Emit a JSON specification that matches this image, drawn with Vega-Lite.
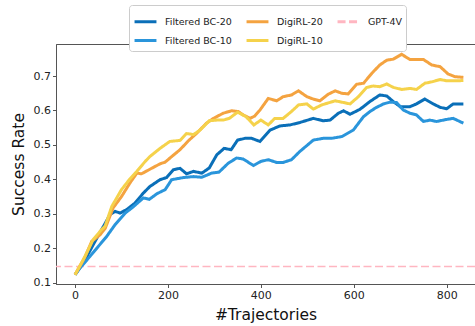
{
  "$schema": "https://vega.github.io/schema/vega-lite/v6.json",
  "width": 419,
  "height": 240,
  "autosize": {"type": "none"},
  "padding": {"left": 56, "top": 44, "right": 0, "bottom": 42},
  "background": "white",
  "config": {
    "view": {"stroke": "#555", "strokeWidth": 1},
    "font": "DejaVu Sans",
    "axis": {
      "grid": false,
      "domainColor": "#555",
      "tickColor": "#555",
      "tickSize": 3.5,
      "labelColor": "#222",
      "labelFontSize": 11,
      "labelFont": "DejaVu Sans",
      "titleFont": "DejaVu Sans",
      "titleFontSize": 15.5,
      "titleFontWeight": "normal",
      "titleColor": "#111",
      "labelPadding": 2,
      "labelOverlap": false
    }
  },
  "datasets": {
    "curves": [
      {"series": "Filtered BC-20", "x": 0, "rate": 0.123},
      {"series": "Filtered BC-20", "x": 20, "rate": 0.162},
      {"series": "Filtered BC-20", "x": 39, "rate": 0.21},
      {"series": "Filtered BC-20", "x": 61, "rate": 0.263},
      {"series": "Filtered BC-20", "x": 75, "rate": 0.297},
      {"series": "Filtered BC-20", "x": 86, "rate": 0.307},
      {"series": "Filtered BC-20", "x": 97, "rate": 0.302},
      {"series": "Filtered BC-20", "x": 111, "rate": 0.312},
      {"series": "Filtered BC-20", "x": 129, "rate": 0.331},
      {"series": "Filtered BC-20", "x": 147, "rate": 0.36},
      {"series": "Filtered BC-20", "x": 161, "rate": 0.379},
      {"series": "Filtered BC-20", "x": 183, "rate": 0.399},
      {"series": "Filtered BC-20", "x": 197, "rate": 0.405},
      {"series": "Filtered BC-20", "x": 212, "rate": 0.428},
      {"series": "Filtered BC-20", "x": 226, "rate": 0.432},
      {"series": "Filtered BC-20", "x": 240, "rate": 0.416},
      {"series": "Filtered BC-20", "x": 255, "rate": 0.423},
      {"series": "Filtered BC-20", "x": 273, "rate": 0.418},
      {"series": "Filtered BC-20", "x": 289, "rate": 0.433},
      {"series": "Filtered BC-20", "x": 305, "rate": 0.471},
      {"series": "Filtered BC-20", "x": 321, "rate": 0.49},
      {"series": "Filtered BC-20", "x": 336, "rate": 0.486},
      {"series": "Filtered BC-20", "x": 350, "rate": 0.514},
      {"series": "Filtered BC-20", "x": 366, "rate": 0.519},
      {"series": "Filtered BC-20", "x": 380, "rate": 0.519},
      {"series": "Filtered BC-20", "x": 398, "rate": 0.51},
      {"series": "Filtered BC-20", "x": 420, "rate": 0.543},
      {"series": "Filtered BC-20", "x": 441, "rate": 0.555},
      {"series": "Filtered BC-20", "x": 463, "rate": 0.558},
      {"series": "Filtered BC-20", "x": 484, "rate": 0.565},
      {"series": "Filtered BC-20", "x": 513, "rate": 0.577},
      {"series": "Filtered BC-20", "x": 534, "rate": 0.57},
      {"series": "Filtered BC-20", "x": 549, "rate": 0.572},
      {"series": "Filtered BC-20", "x": 567, "rate": 0.592},
      {"series": "Filtered BC-20", "x": 578, "rate": 0.599},
      {"series": "Filtered BC-20", "x": 592, "rate": 0.589},
      {"series": "Filtered BC-20", "x": 613, "rate": 0.603},
      {"series": "Filtered BC-20", "x": 635, "rate": 0.626},
      {"series": "Filtered BC-20", "x": 656, "rate": 0.645},
      {"series": "Filtered BC-20", "x": 671, "rate": 0.642},
      {"series": "Filtered BC-20", "x": 685, "rate": 0.626},
      {"series": "Filtered BC-20", "x": 700, "rate": 0.611},
      {"series": "Filtered BC-20", "x": 721, "rate": 0.611},
      {"series": "Filtered BC-20", "x": 735, "rate": 0.619},
      {"series": "Filtered BC-20", "x": 753, "rate": 0.633},
      {"series": "Filtered BC-20", "x": 771, "rate": 0.619},
      {"series": "Filtered BC-20", "x": 786, "rate": 0.609},
      {"series": "Filtered BC-20", "x": 800, "rate": 0.605},
      {"series": "Filtered BC-20", "x": 814, "rate": 0.619},
      {"series": "Filtered BC-20", "x": 836, "rate": 0.619},

      {"series": "Filtered BC-10", "x": 0, "rate": 0.123},
      {"series": "Filtered BC-10", "x": 11, "rate": 0.143},
      {"series": "Filtered BC-10", "x": 32, "rate": 0.176},
      {"series": "Filtered BC-10", "x": 50, "rate": 0.205},
      {"series": "Filtered BC-10", "x": 68, "rate": 0.234},
      {"series": "Filtered BC-10", "x": 86, "rate": 0.268},
      {"series": "Filtered BC-10", "x": 108, "rate": 0.302},
      {"series": "Filtered BC-10", "x": 126, "rate": 0.321},
      {"series": "Filtered BC-10", "x": 147, "rate": 0.346},
      {"series": "Filtered BC-10", "x": 160, "rate": 0.342},
      {"series": "Filtered BC-10", "x": 176, "rate": 0.358},
      {"series": "Filtered BC-10", "x": 194, "rate": 0.37},
      {"series": "Filtered BC-10", "x": 208, "rate": 0.399},
      {"series": "Filtered BC-10", "x": 233, "rate": 0.405},
      {"series": "Filtered BC-10", "x": 255, "rate": 0.408},
      {"series": "Filtered BC-10", "x": 273, "rate": 0.406},
      {"series": "Filtered BC-10", "x": 294, "rate": 0.418},
      {"series": "Filtered BC-10", "x": 310, "rate": 0.421},
      {"series": "Filtered BC-10", "x": 330, "rate": 0.447},
      {"series": "Filtered BC-10", "x": 348, "rate": 0.462},
      {"series": "Filtered BC-10", "x": 362, "rate": 0.459},
      {"series": "Filtered BC-10", "x": 384, "rate": 0.44},
      {"series": "Filtered BC-10", "x": 400, "rate": 0.452},
      {"series": "Filtered BC-10", "x": 416, "rate": 0.457},
      {"series": "Filtered BC-10", "x": 434, "rate": 0.449},
      {"series": "Filtered BC-10", "x": 448, "rate": 0.449},
      {"series": "Filtered BC-10", "x": 466, "rate": 0.457},
      {"series": "Filtered BC-10", "x": 484, "rate": 0.481},
      {"series": "Filtered BC-10", "x": 513, "rate": 0.514},
      {"series": "Filtered BC-10", "x": 534, "rate": 0.519},
      {"series": "Filtered BC-10", "x": 552, "rate": 0.519},
      {"series": "Filtered BC-10", "x": 574, "rate": 0.524},
      {"series": "Filtered BC-10", "x": 599, "rate": 0.543},
      {"series": "Filtered BC-10", "x": 621, "rate": 0.582},
      {"series": "Filtered BC-10", "x": 635, "rate": 0.597},
      {"series": "Filtered BC-10", "x": 649, "rate": 0.609},
      {"series": "Filtered BC-10", "x": 664, "rate": 0.619},
      {"series": "Filtered BC-10", "x": 678, "rate": 0.624},
      {"series": "Filtered BC-10", "x": 692, "rate": 0.623},
      {"series": "Filtered BC-10", "x": 707, "rate": 0.601},
      {"series": "Filtered BC-10", "x": 721, "rate": 0.592},
      {"series": "Filtered BC-10", "x": 735, "rate": 0.587},
      {"series": "Filtered BC-10", "x": 750, "rate": 0.568},
      {"series": "Filtered BC-10", "x": 764, "rate": 0.572},
      {"series": "Filtered BC-10", "x": 778, "rate": 0.568},
      {"series": "Filtered BC-10", "x": 800, "rate": 0.574},
      {"series": "Filtered BC-10", "x": 814, "rate": 0.577},
      {"series": "Filtered BC-10", "x": 836, "rate": 0.563},

      {"series": "DigiRL-20", "x": 0, "rate": 0.123},
      {"series": "DigiRL-20", "x": 22, "rate": 0.176},
      {"series": "DigiRL-20", "x": 36, "rate": 0.22},
      {"series": "DigiRL-20", "x": 54, "rate": 0.239},
      {"series": "DigiRL-20", "x": 65, "rate": 0.258},
      {"series": "DigiRL-20", "x": 82, "rate": 0.317},
      {"series": "DigiRL-20", "x": 100, "rate": 0.35},
      {"series": "DigiRL-20", "x": 118, "rate": 0.389},
      {"series": "DigiRL-20", "x": 133, "rate": 0.418},
      {"series": "DigiRL-20", "x": 143, "rate": 0.416},
      {"series": "DigiRL-20", "x": 165, "rate": 0.432},
      {"series": "DigiRL-20", "x": 183, "rate": 0.445},
      {"series": "DigiRL-20", "x": 194, "rate": 0.45},
      {"series": "DigiRL-20", "x": 208, "rate": 0.466},
      {"series": "DigiRL-20", "x": 226, "rate": 0.486},
      {"series": "DigiRL-20", "x": 244, "rate": 0.512},
      {"series": "DigiRL-20", "x": 262, "rate": 0.534},
      {"series": "DigiRL-20", "x": 283, "rate": 0.563},
      {"series": "DigiRL-20", "x": 298, "rate": 0.577},
      {"series": "DigiRL-20", "x": 319, "rate": 0.592},
      {"series": "DigiRL-20", "x": 337, "rate": 0.599},
      {"series": "DigiRL-20", "x": 351, "rate": 0.597},
      {"series": "DigiRL-20", "x": 362, "rate": 0.587},
      {"series": "DigiRL-20", "x": 377, "rate": 0.577},
      {"series": "DigiRL-20", "x": 387, "rate": 0.584},
      {"series": "DigiRL-20", "x": 398, "rate": 0.601},
      {"series": "DigiRL-20", "x": 416, "rate": 0.635},
      {"series": "DigiRL-20", "x": 434, "rate": 0.628},
      {"series": "DigiRL-20", "x": 448, "rate": 0.64},
      {"series": "DigiRL-20", "x": 466, "rate": 0.645},
      {"series": "DigiRL-20", "x": 481, "rate": 0.657},
      {"series": "DigiRL-20", "x": 499, "rate": 0.64},
      {"series": "DigiRL-20", "x": 513, "rate": 0.633},
      {"series": "DigiRL-20", "x": 527, "rate": 0.628},
      {"series": "DigiRL-20", "x": 545, "rate": 0.647},
      {"series": "DigiRL-20", "x": 560, "rate": 0.657},
      {"series": "DigiRL-20", "x": 574, "rate": 0.65},
      {"series": "DigiRL-20", "x": 588, "rate": 0.648},
      {"series": "DigiRL-20", "x": 606, "rate": 0.676},
      {"series": "DigiRL-20", "x": 621, "rate": 0.679},
      {"series": "DigiRL-20", "x": 639, "rate": 0.708},
      {"series": "DigiRL-20", "x": 656, "rate": 0.732},
      {"series": "DigiRL-20", "x": 671, "rate": 0.746},
      {"series": "DigiRL-20", "x": 685, "rate": 0.749},
      {"series": "DigiRL-20", "x": 703, "rate": 0.763},
      {"series": "DigiRL-20", "x": 721, "rate": 0.748},
      {"series": "DigiRL-20", "x": 735, "rate": 0.748},
      {"series": "DigiRL-20", "x": 750, "rate": 0.748},
      {"series": "DigiRL-20", "x": 768, "rate": 0.732},
      {"series": "DigiRL-20", "x": 786, "rate": 0.727},
      {"series": "DigiRL-20", "x": 803, "rate": 0.706},
      {"series": "DigiRL-20", "x": 818, "rate": 0.698},
      {"series": "DigiRL-20", "x": 836, "rate": 0.696},

      {"series": "DigiRL-10", "x": 0, "rate": 0.123},
      {"series": "DigiRL-10", "x": 18, "rate": 0.167},
      {"series": "DigiRL-10", "x": 39, "rate": 0.225},
      {"series": "DigiRL-10", "x": 54, "rate": 0.249},
      {"series": "DigiRL-10", "x": 65, "rate": 0.265},
      {"series": "DigiRL-10", "x": 79, "rate": 0.321},
      {"series": "DigiRL-10", "x": 100, "rate": 0.37},
      {"series": "DigiRL-10", "x": 118, "rate": 0.401},
      {"series": "DigiRL-10", "x": 133, "rate": 0.423},
      {"series": "DigiRL-10", "x": 151, "rate": 0.452},
      {"series": "DigiRL-10", "x": 161, "rate": 0.466},
      {"series": "DigiRL-10", "x": 183, "rate": 0.49},
      {"series": "DigiRL-10", "x": 204, "rate": 0.51},
      {"series": "DigiRL-10", "x": 226, "rate": 0.513},
      {"series": "DigiRL-10", "x": 240, "rate": 0.533},
      {"series": "DigiRL-10", "x": 255, "rate": 0.53},
      {"series": "DigiRL-10", "x": 269, "rate": 0.543},
      {"series": "DigiRL-10", "x": 289, "rate": 0.57},
      {"series": "DigiRL-10", "x": 305, "rate": 0.572},
      {"series": "DigiRL-10", "x": 319, "rate": 0.572},
      {"series": "DigiRL-10", "x": 332, "rate": 0.577},
      {"series": "DigiRL-10", "x": 350, "rate": 0.595},
      {"series": "DigiRL-10", "x": 368, "rate": 0.582},
      {"series": "DigiRL-10", "x": 385, "rate": 0.558},
      {"series": "DigiRL-10", "x": 400, "rate": 0.572},
      {"series": "DigiRL-10", "x": 416, "rate": 0.558},
      {"series": "DigiRL-10", "x": 430, "rate": 0.577},
      {"series": "DigiRL-10", "x": 448, "rate": 0.577},
      {"series": "DigiRL-10", "x": 466, "rate": 0.597},
      {"series": "DigiRL-10", "x": 481, "rate": 0.616},
      {"series": "DigiRL-10", "x": 499, "rate": 0.619},
      {"series": "DigiRL-10", "x": 513, "rate": 0.604},
      {"series": "DigiRL-10", "x": 531, "rate": 0.616},
      {"series": "DigiRL-10", "x": 560, "rate": 0.628},
      {"series": "DigiRL-10", "x": 578, "rate": 0.623},
      {"series": "DigiRL-10", "x": 592, "rate": 0.619},
      {"series": "DigiRL-10", "x": 610, "rate": 0.64},
      {"series": "DigiRL-10", "x": 628, "rate": 0.667},
      {"series": "DigiRL-10", "x": 642, "rate": 0.671},
      {"series": "DigiRL-10", "x": 656, "rate": 0.669},
      {"series": "DigiRL-10", "x": 671, "rate": 0.677},
      {"series": "DigiRL-10", "x": 685, "rate": 0.667},
      {"series": "DigiRL-10", "x": 703, "rate": 0.661},
      {"series": "DigiRL-10", "x": 721, "rate": 0.664},
      {"series": "DigiRL-10", "x": 735, "rate": 0.661},
      {"series": "DigiRL-10", "x": 753, "rate": 0.679},
      {"series": "DigiRL-10", "x": 768, "rate": 0.683},
      {"series": "DigiRL-10", "x": 786, "rate": 0.69},
      {"series": "DigiRL-10", "x": 800, "rate": 0.686},
      {"series": "DigiRL-10", "x": 818, "rate": 0.686},
      {"series": "DigiRL-10", "x": 836, "rate": 0.687}
    ],
    "baseline": [
      {"series": "GPT-4V", "rate": 0.147}
    ]
  },
  "layer": [
    {
      "data": {"name": "baseline"},
      "mark": {"type": "rule", "strokeWidth": 1.6},
      "encoding": {
        "y": {
          "field": "rate",
          "type": "quantitative",
          "scale": {"domain": [0.096, 0.793], "nice": false, "zero": false},
          "axis": {"values": [0.1, 0.2, 0.3, 0.4, 0.5, 0.6, 0.7], "format": ".1f", "title": "Success Rate", "titlePadding": 7, "labelOverlap": false}
        },
        "color": {"field": "series", "type": "nominal"},
        "strokeDash": {"field": "series", "type": "nominal"}
      }
    },
    {
      "data": {"name": "curves"},
      "mark": {"type": "line", "strokeWidth": 3, "clip": true},
      "encoding": {
        "x": {
          "field": "x",
          "type": "quantitative",
          "scale": {"domain": [-41, 861], "nice": false, "zero": false},
          "axis": {"values": [0, 200, 400, 600, 800], "title": "#Trajectories", "titlePadding": 7}
        },
        "y": {
          "field": "rate",
          "type": "quantitative",
          "scale": {"domain": [0.096, 0.793], "nice": false, "zero": false},
          "axis": {"values": [0.1, 0.2, 0.3, 0.4, 0.5, 0.6, 0.7], "format": ".1f", "title": "Success Rate", "titlePadding": 7, "labelOverlap": false}
        },
        "color": {
          "field": "series",
          "type": "nominal",
          "scale": {
            "domain": ["Filtered BC-20", "Filtered BC-10", "DigiRL-20", "DigiRL-10", "GPT-4V"],
            "range": ["#0a6fb8", "#2a95db", "#f4a340", "#f5d24b", "#ffb6c1"]
          },
          "legend": {
            "orient": "none",
            "legendX": 73,
            "legendY": -39,
            "columns": 3,
            "title": null,
            "symbolType": "stroke",
            "symbolSize": 480,
            "symbolStrokeWidth": 3,
            "labelFontSize": 9.5,
            "labelFont": "DejaVu Sans",
            "labelColor": "#222",
            "labelOffset": 7,
            "columnPadding": 8,
            "rowPadding": -8,
            "padding": 4,
            "strokeColor": "#ccc",
            "fillColor": "white",
            "cornerRadius": 3
          }
        },
        "strokeDash": {
          "field": "series",
          "type": "nominal",
          "scale": {
            "domain": ["Filtered BC-20", "Filtered BC-10", "DigiRL-20", "DigiRL-10", "GPT-4V"],
            "range": [[1, 0], [1, 0], [1, 0], [1, 0], [8, 3.5]]
          }
        }
      }
    }
  ]
}
